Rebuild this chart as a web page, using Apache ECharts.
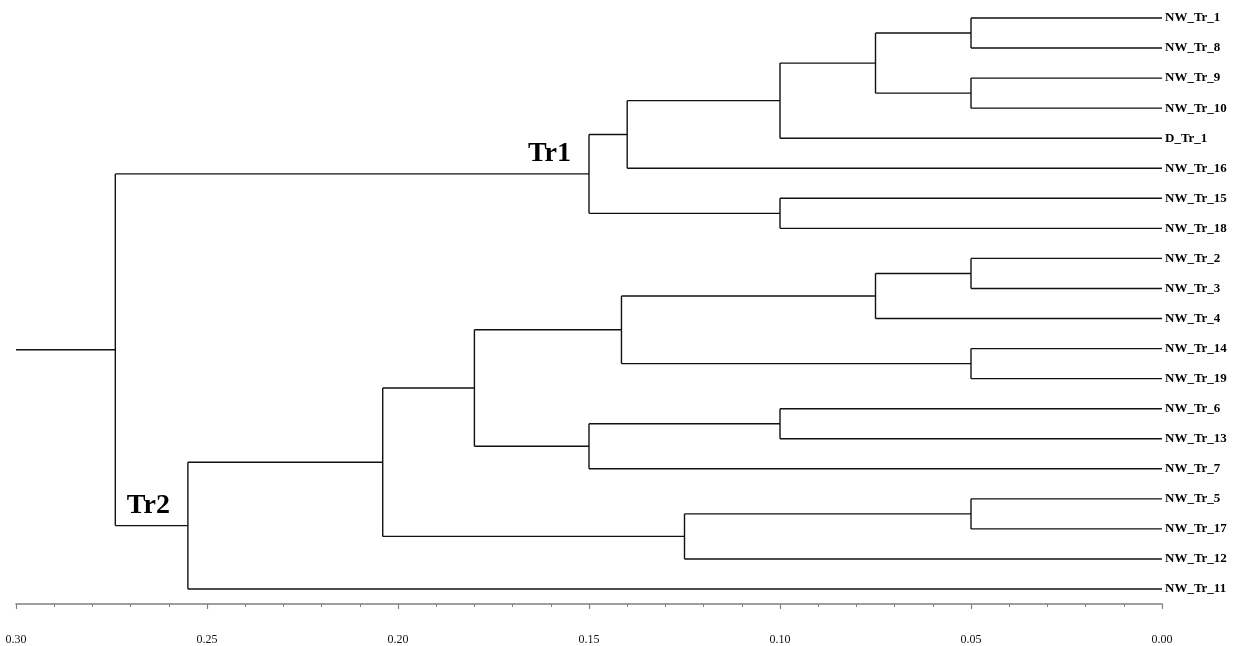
<!DOCTYPE html>
<html>
<head>
<meta charset="utf-8">
<script src="https://cdn.jsdelivr.net/npm/echarts@6/dist/echarts.min.js"></script>
<style>html,body{margin:0;padding:0;background:#fff}#c{width:1234px;height:646px}</style>
</head>
<body>
<div id="c"></div>
<script>
// Leaf labels, top to bottom
const leaves = ["NW_Tr_1","NW_Tr_8","NW_Tr_9","NW_Tr_10","D_Tr_1","NW_Tr_16","NW_Tr_15","NW_Tr_18",
  "NW_Tr_2","NW_Tr_3","NW_Tr_4","NW_Tr_14","NW_Tr_19","NW_Tr_6","NW_Tr_13","NW_Tr_7",
  "NW_Tr_5","NW_Tr_17","NW_Tr_12","NW_Tr_11"];
// Merges: [childA, childB, height]; leaves are 0..19, new clusters numbered from 20
const mergeA = [0, 2, 20, 22, 23, 6, 24, 8, 27, 11, 28, 13, 31, 30, 16, 34, 33, 36, 26];
const mergeB = [1, 3, 21, 4, 5, 7, 25, 9, 10, 12, 29, 14, 15, 32, 17, 18, 35, 19, 37];
const mergeH = [0.05, 0.05, 0.075, 0.10, 0.14, 0.10, 0.15, 0.05, 0.075, 0.05, 0.1415, 0.10, 0.15, 0.18, 0.05, 0.125, 0.204, 0.255, 0.274];
const rootStem = 0.30;
// Cluster annotations
const clusterLabelIds = [26, 37];
const clusterLabelText = ["Tr1", "Tr2"];

// build node positions
const nodeY = leaves.map((_, i) => i);
const nodeH = leaves.map(() => 0);
const segs = [];
for (let k = 0; k < mergeA.length; k++) {
  const a = mergeA[k], b = mergeB[k], h = mergeH[k];
  const id = leaves.length + k;
  nodeY[id] = (nodeY[a] + nodeY[b]) / 2;
  nodeH[id] = h;
  segs.push([nodeH[a], nodeY[a], h, nodeY[a]]);
  segs.push([nodeH[b], nodeY[b], h, nodeY[b]]);
  segs.push([h, nodeY[a], h, nodeY[b]]);
}
const rootId = leaves.length + mergeA.length - 1;
segs.push([nodeH[rootId], nodeY[rootId], rootStem, nodeY[rootId]]);

const labelPts = clusterLabelIds.map((id, i) => ({ value: [nodeH[id], nodeY[id]], name: clusterLabelText[i] }));

const chart = echarts.init(document.getElementById('c'), null, { renderer: 'canvas' });
chart.setOption({
  backgroundColor: '#fff',
  animation: false,
  grid: { left: 16, right: 72, top: 18, bottom: 57, containLabel: false },
  xAxis: {
    type: 'value', min: 0, max: 0.3, interval: 0.05, inverse: true, offset: 15, position: 'bottom',
    axisLine: { show: true, onZero: false, lineStyle: { color: '#808080', width: 1.5 } },
    axisTick: { show: true, length: 5, lineStyle: { color: '#808080', width: 1.2 } },
    minorTick: { show: true, splitNumber: 5, length: 3, lineStyle: { color: '#808080', width: 1 } },
    splitLine: { show: false },
    axisLabel: { margin: 30, fontFamily: 'Liberation Serif', fontSize: 12, color: '#111',
      formatter: v => v.toFixed(2) }
  },
  yAxis: {
    type: 'value', min: 0, max: leaves.length - 1, interval: 1, inverse: true, position: 'right',
    axisLine: { show: false }, axisTick: { show: false }, splitLine: { show: false },
    axisLabel: { margin: 3, fontFamily: 'Liberation Serif', fontWeight: 'bold', fontSize: 13, color: '#000',
      formatter: v => leaves[v] || '' }
  },
  series: [
    {
      type: 'custom',
      data: segs,
      encode: { x: [0, 2], y: [1, 3] },
      renderItem: function (params, api) {
        const p1 = api.coord([api.value(0), api.value(1)]);
        const p2 = api.coord([api.value(2), api.value(3)]);
        return { type: 'line', shape: { x1: p1[0], y1: p1[1], x2: p2[0], y2: p2[1] },
          style: { stroke: '#111', lineWidth: 1.4 } };
      },
      silent: true
    },
    {
      type: 'scatter', symbolSize: 0, silent: true,
      itemStyle: { opacity: 1 },
      data: labelPts,
      label: {
        show: true, formatter: '{b}', fontFamily: 'Liberation Serif', fontWeight: 'bold', fontSize: 28, color: '#000',
        position: [-18, -6], align: 'right', verticalAlign: 'bottom'
      }
    }
  ]
});
</script>
</body>
</html>
